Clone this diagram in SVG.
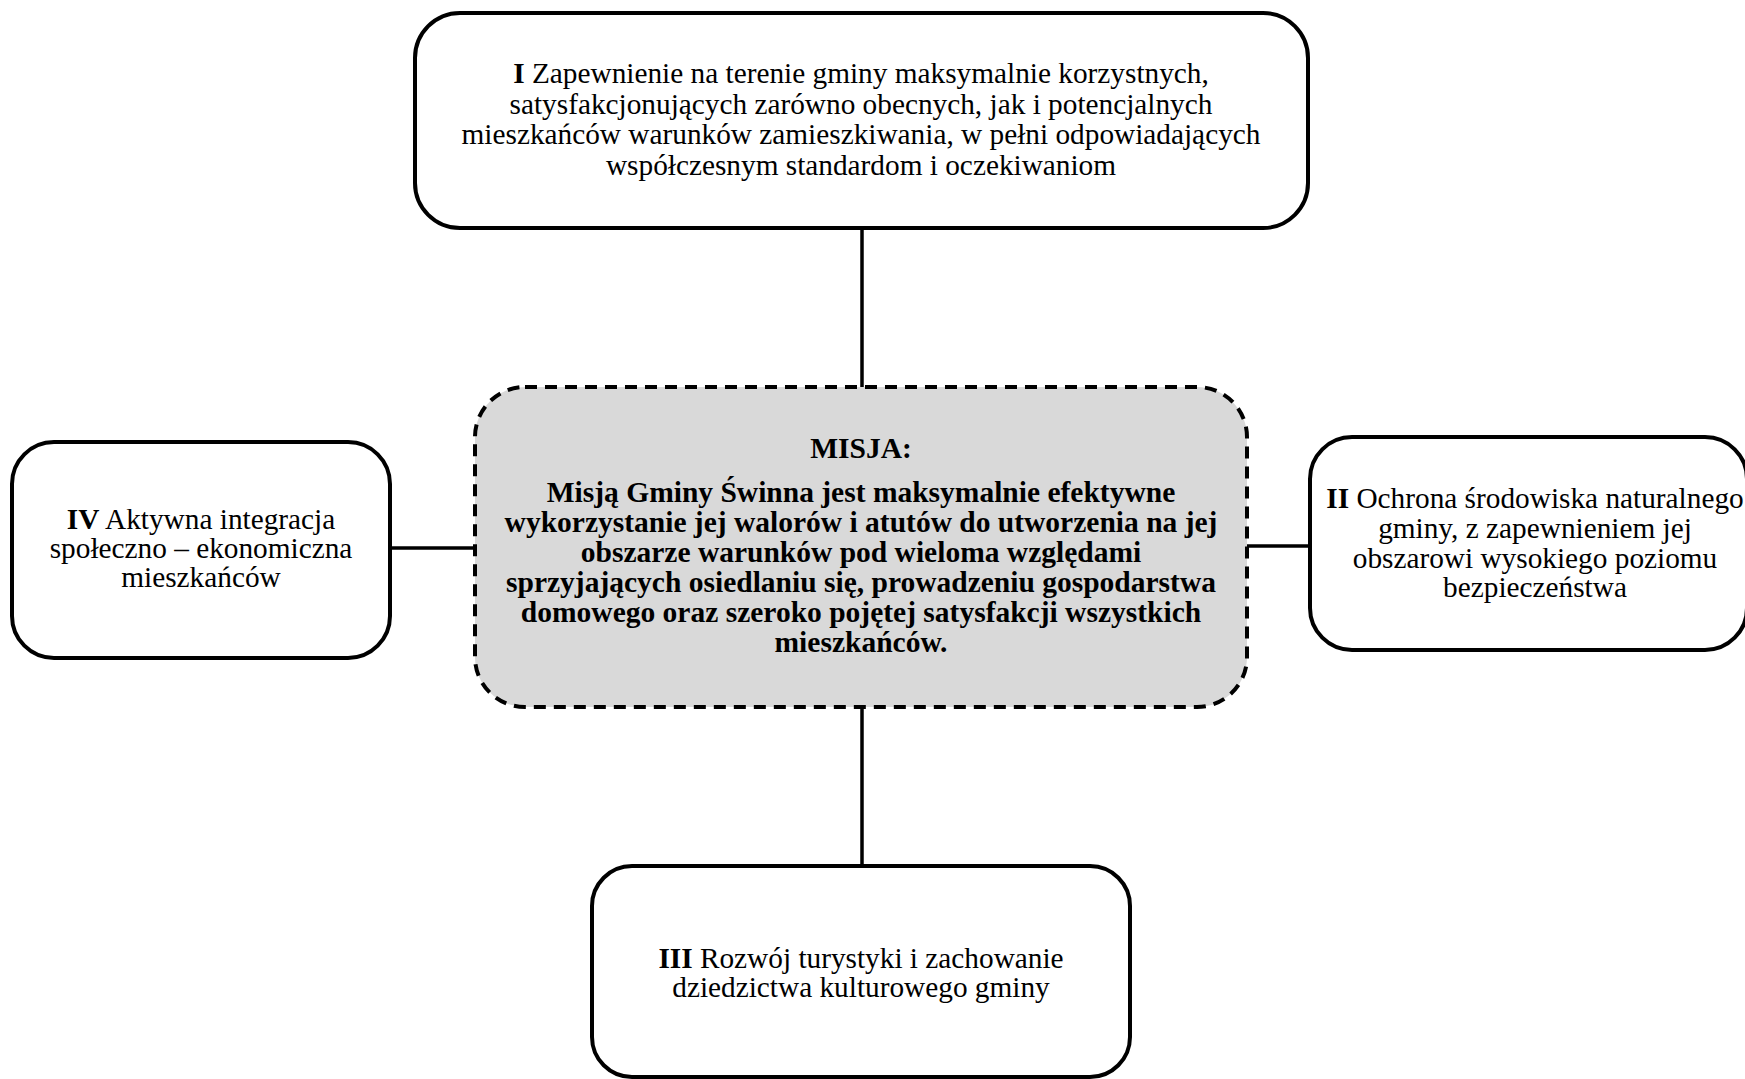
<svg xmlns="http://www.w3.org/2000/svg" width="1745" height="1079" viewBox="0 0 1745 1079">
<style>
.box{fill:#fff;stroke:#000;stroke-width:4}
.mission{fill:#d9d9d9;stroke:#000;stroke-width:4;stroke-dasharray:12 8}
.conn{stroke:#000;stroke-width:3.5;fill:none}
text{font-family:"Liberation Serif","Times New Roman",serif;fill:#000;text-anchor:middle}
.t{font-size:29.3px}
.b{font-size:29.5px;font-weight:bold}
</style>
<rect width="1745" height="1079" fill="#fff"/>
<g id="connectors">
<line class="conn" x1="862" y1="228" x2="862" y2="387"/>
<line class="conn" x1="862" y1="707" x2="862" y2="866"/>
<line class="conn" x1="390" y1="548" x2="475" y2="548"/>
<line class="conn" x1="1247" y1="546" x2="1310" y2="546"/>
</g>
<g id="node-I">
<rect class="box" x="415" y="13" width="893" height="215" rx="45"/>
<text class="t"><tspan x="861" y="83"><tspan font-weight="bold">I</tspan> Zapewnienie na terenie gminy maksymalnie korzystnych,</tspan><tspan x="861" y="113.5">satysfakcjonujących zarówno obecnych, jak i potencjalnych</tspan><tspan x="861" y="144">mieszkańców warunków zamieszkiwania, w pełni odpowiadających</tspan><tspan x="861" y="174.5">współczesnym standardom i oczekiwaniom</tspan></text>
</g>
<g id="node-misja">
<rect class="mission" x="475" y="387" width="772" height="320" rx="50"/>
<text class="b"><tspan x="861" y="458">MISJA:</tspan><tspan x="861" y="502">Misją Gminy Świnna jest maksymalnie efektywne</tspan><tspan x="861" y="532">wykorzystanie jej walorów i atutów do utworzenia na jej</tspan><tspan x="861" y="562">obszarze warunków pod wieloma względami</tspan><tspan x="861" y="592">sprzyjających osiedlaniu się, prowadzeniu gospodarstwa</tspan><tspan x="861" y="622">domowego oraz szeroko pojętej satysfakcji wszystkich</tspan><tspan x="861" y="652">mieszkańców.</tspan></text>
</g>
<g id="node-IV">
<rect class="box" x="12" y="442" width="378" height="216" rx="42"/>
<text class="t"><tspan x="201" y="529"><tspan font-weight="bold">IV</tspan> Aktywna integracja</tspan><tspan x="201" y="558">społeczno – ekonomiczna</tspan><tspan x="201" y="587">mieszkańców</tspan></text>
</g>
<g id="node-II">
<rect class="box" x="1310" y="437" width="437" height="213" rx="42"/>
<text class="t"><tspan x="1535" y="508"><tspan font-weight="bold">II</tspan> Ochrona środowiska naturalnego</tspan><tspan x="1535" y="538">gminy, z zapewnieniem jej</tspan><tspan x="1535" y="568">obszarowi wysokiego poziomu</tspan><tspan x="1535" y="597">bezpieczeństwa</tspan></text>
</g>
<g id="node-III">
<rect class="box" x="592" y="866" width="538" height="211" rx="40"/>
<text class="t"><tspan x="861" y="968"><tspan font-weight="bold">III</tspan> Rozwój turystyki i zachowanie</tspan><tspan x="861" y="997">dziedzictwa kulturowego gminy</tspan></text>
</g>
</svg>
